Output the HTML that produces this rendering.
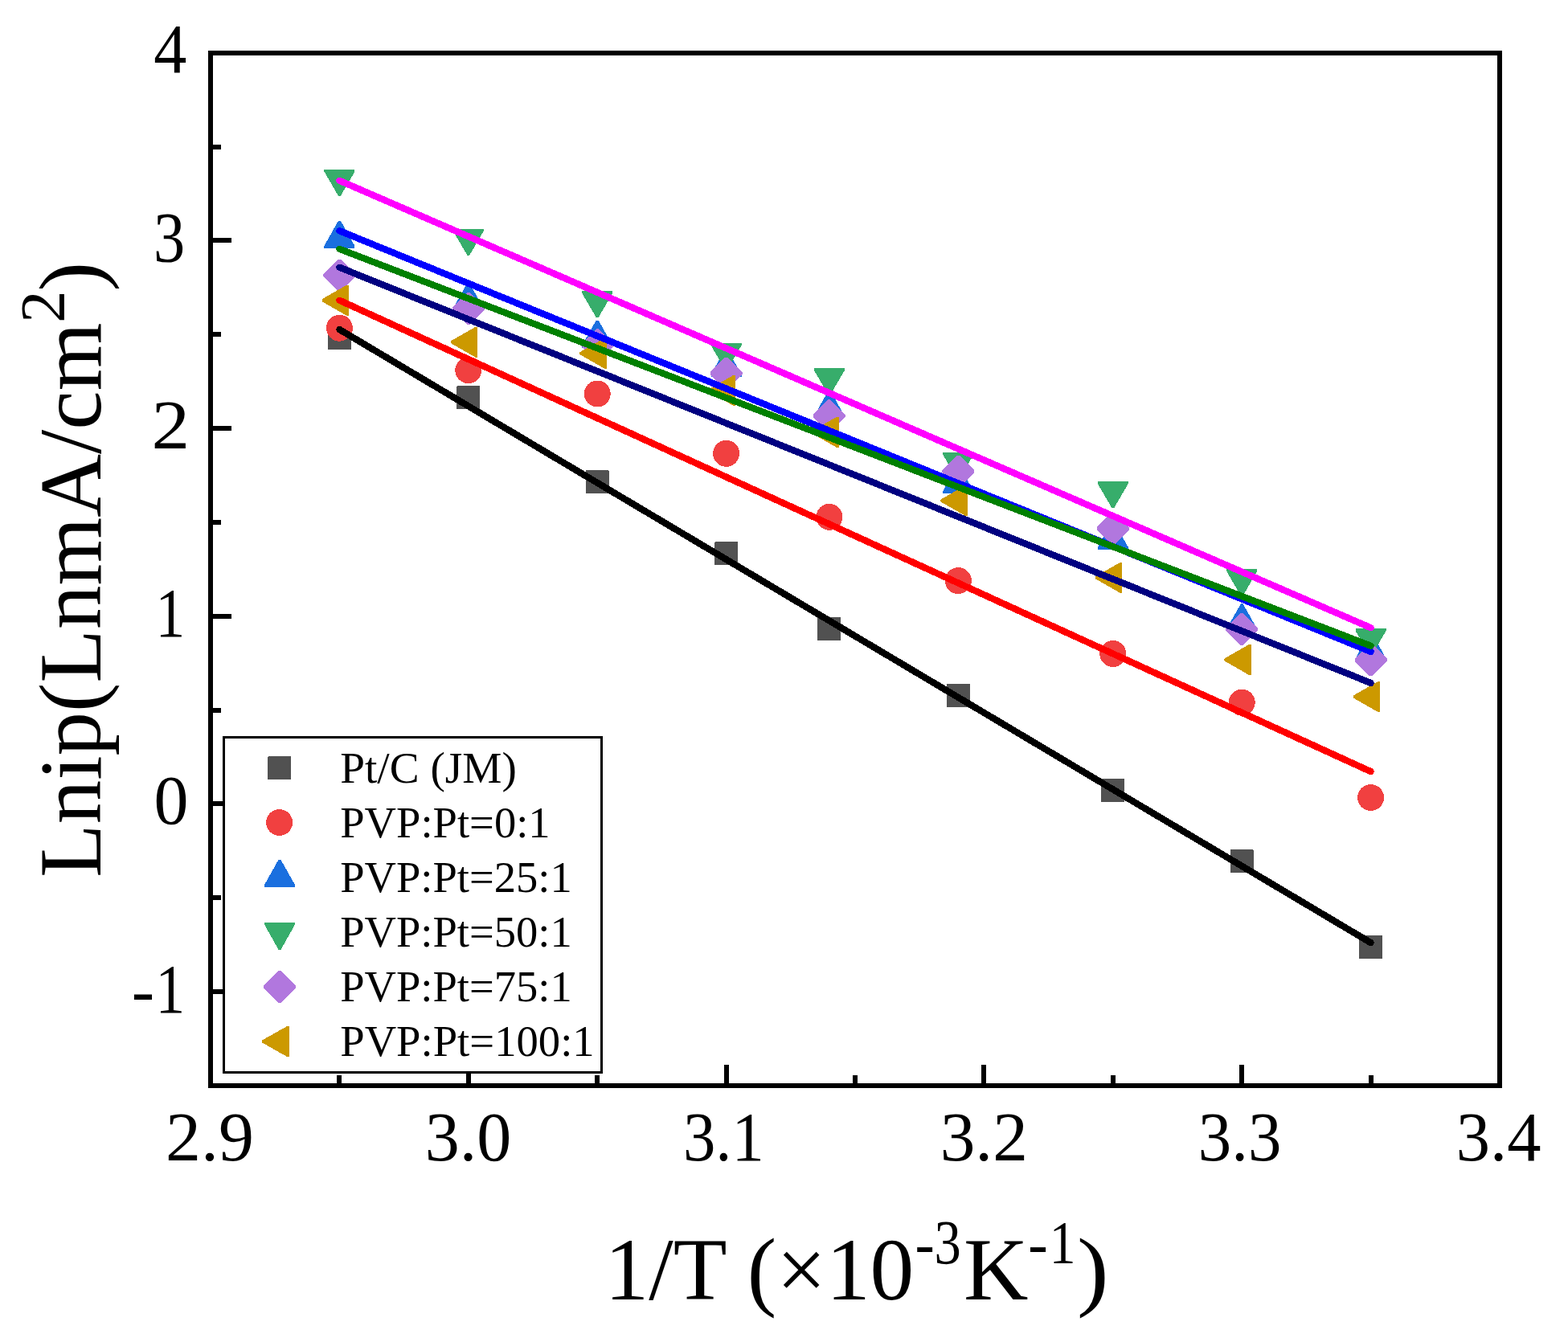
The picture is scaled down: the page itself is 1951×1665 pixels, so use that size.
<!DOCTYPE html>
<html lang="en"><head><meta charset="utf-8"><title>Lnip vs 1/T</title>
<style>html,body{margin:0;padding:0;background:#fff;overflow:hidden}body{width:1951px;height:1665px}svg{display:block}</style></head>
<body>
<svg width="1951" height="1665" viewBox="0 0 1951 1665" font-family='"Liberation Serif", "Times New Roman", serif' fill="#000">
<rect width="1951" height="1665" fill="#fff"/>
<g stroke="#000" stroke-width="6" fill="none" shape-rendering="crispEdges">
<line x1="262" y1="299" x2="288" y2="299"/>
<line x1="262" y1="533" x2="288" y2="533"/>
<line x1="262" y1="767" x2="288" y2="767"/>
<line x1="262" y1="1000" x2="288" y2="1000"/>
<line x1="262" y1="1234" x2="288" y2="1234"/>
<line x1="262" y1="183" x2="275" y2="183"/>
<line x1="262" y1="416" x2="275" y2="416"/>
<line x1="262" y1="650" x2="275" y2="650"/>
<line x1="262" y1="884" x2="275" y2="884"/>
<line x1="262" y1="1117" x2="275" y2="1117"/>
<line x1="583" y1="1351" x2="583" y2="1325"/>
<line x1="904" y1="1351" x2="904" y2="1325"/>
<line x1="1224" y1="1351" x2="1224" y2="1325"/>
<line x1="1545" y1="1351" x2="1545" y2="1325"/>
<line x1="422" y1="1351" x2="422" y2="1338"/>
<line x1="743" y1="1351" x2="743" y2="1338"/>
<line x1="1064" y1="1351" x2="1064" y2="1338"/>
<line x1="1385" y1="1351" x2="1385" y2="1338"/>
<line x1="1706" y1="1351" x2="1706" y2="1338"/>
</g>
<g shape-rendering="crispEdges">
<polygon points="408.9,406 435.9,406 436.9,407 436.9,435 407.9,435 407.9,407" fill="#515151"/>
<polygon points="569.3,479.8 596.3,479.8 597.3,480.8 597.3,508.8 568.3,508.8 568.3,480.8" fill="#515151"/>
<polygon points="729.7,584.9 756.7,584.9 757.7,585.9 757.7,613.9 728.7,613.9 728.7,585.9" fill="#515151"/>
<polygon points="890.1,674.1 917.1,674.1 918.1,675.1 918.1,703.1 889.1,703.1 889.1,675.1" fill="#515151"/>
<polygon points="1018.42,767.5 1045.42,767.5 1046.42,768.5 1046.42,796.5 1017.42,796.5 1017.42,768.5" fill="#515151"/>
<polygon points="1178.82,850.6 1205.82,850.6 1206.82,851.6 1206.82,879.6 1177.82,879.6 1177.82,851.6" fill="#515151"/>
<polygon points="1371.3,968.9 1398.3,968.9 1399.3,969.9 1399.3,997.9 1370.3,997.9 1370.3,969.9" fill="#515151"/>
<polygon points="1531.7,1057.1 1558.7,1057.1 1559.7,1058.1 1559.7,1086.1 1530.7,1086.1 1530.7,1058.1" fill="#515151"/>
<polygon points="1692.1,1163.5 1719.1,1163.5 1720.1,1164.5 1720.1,1192.5 1691.1,1192.5 1691.1,1164.5" fill="#515151"/>
<circle cx="422.4" cy="408.2" r="16.5" fill="#F14040"/>
<circle cx="582.8" cy="460.7" r="16.5" fill="#F14040"/>
<circle cx="743.2" cy="490" r="16.5" fill="#F14040"/>
<circle cx="903.6" cy="564.3" r="16.5" fill="#F14040"/>
<circle cx="1031.92" cy="643.3" r="16.5" fill="#F14040"/>
<circle cx="1192.32" cy="722.6" r="16.5" fill="#F14040"/>
<circle cx="1384.8" cy="813.5" r="16.5" fill="#F14040"/>
<circle cx="1545.2" cy="874.2" r="16.5" fill="#F14040"/>
<circle cx="1705.6" cy="992.5" r="16.5" fill="#F14040"/>
<polygon points="403.33,308.66 441.48,308.66 441.48,306.06 423.8,274.66 421,274.66 403.33,306.06" fill="#1A6FDF"/>
<polygon points="563.73,386.36 601.88,386.36 601.88,383.76 584.2,352.36 581.4,352.36 563.73,383.76" fill="#1A6FDF"/>
<polygon points="724.12,432.56 762.27,432.56 762.27,429.96 744.6,398.56 741.8,398.56 724.12,429.96" fill="#1A6FDF"/>
<polygon points="884.53,468.66 922.68,468.66 922.68,466.06 905,434.66 902.2,434.66 884.53,466.06" fill="#1A6FDF"/>
<polygon points="1012.85,520.46 1051,520.46 1051,517.86 1033.32,486.46 1030.52,486.46 1012.85,517.86" fill="#1A6FDF"/>
<polygon points="1173.25,613.66 1211.4,613.66 1211.4,611.06 1193.72,579.66 1190.92,579.66 1173.25,611.06" fill="#1A6FDF"/>
<polygon points="1365.73,683.76 1403.88,683.76 1403.88,681.16 1386.2,649.76 1383.4,649.76 1365.73,681.16" fill="#1A6FDF"/>
<polygon points="1526.12,785.46 1564.27,785.46 1564.27,782.86 1546.6,751.46 1543.8,751.46 1526.12,782.86" fill="#1A6FDF"/>
<polygon points="1686.53,821.96 1724.68,821.96 1724.68,819.36 1707,787.96 1704.2,787.96 1686.53,819.36" fill="#1A6FDF"/>
<polygon points="403.33,210.84 441.48,210.84 441.48,213.44 423.8,243.84 421,243.84 403.33,213.44" fill="#37AD6B"/>
<polygon points="563.73,284.74 601.88,284.74 601.88,287.34 584.2,317.74 581.4,317.74 563.73,287.34" fill="#37AD6B"/>
<polygon points="724.12,362.14 762.27,362.14 762.27,364.74 744.6,395.14 741.8,395.14 724.12,364.74" fill="#37AD6B"/>
<polygon points="884.53,427.14 922.68,427.14 922.68,429.74 905,460.14 902.2,460.14 884.53,429.74" fill="#37AD6B"/>
<polygon points="1012.85,458.14 1051,458.14 1051,460.74 1033.32,491.14 1030.52,491.14 1012.85,460.74" fill="#37AD6B"/>
<polygon points="1173.25,563.14 1211.4,563.14 1211.4,565.74 1193.72,596.14 1190.92,596.14 1173.25,565.74" fill="#37AD6B"/>
<polygon points="1365.73,599.14 1403.88,599.14 1403.88,601.74 1386.2,632.14 1383.4,632.14 1365.73,601.74" fill="#37AD6B"/>
<polygon points="1526.12,708.24 1564.27,708.24 1564.27,710.84 1546.6,741.24 1543.8,741.24 1526.12,710.84" fill="#37AD6B"/>
<polygon points="1686.53,782.24 1724.68,782.24 1724.68,784.84 1707,815.24 1704.2,815.24 1686.53,784.84" fill="#37AD6B"/>
<polygon points="420.9,322.65 423.9,322.65 442.45,341.2 442.45,344.2 423.9,362.75 420.9,362.75 402.35,344.2 402.35,341.2" fill="#B177DE"/>
<polygon points="581.3,363.85 584.3,363.85 602.85,382.4 602.85,385.4 584.3,403.95 581.3,403.95 562.75,385.4 562.75,382.4" fill="#B177DE"/>
<polygon points="741.7,409.35 744.7,409.35 763.25,427.9 763.25,430.9 744.7,449.45 741.7,449.45 723.15,430.9 723.15,427.9" fill="#B177DE"/>
<polygon points="902.1,444.65 905.1,444.65 923.65,463.2 923.65,466.2 905.1,484.75 902.1,484.75 883.55,466.2 883.55,463.2" fill="#B177DE"/>
<polygon points="1030.42,497.45 1033.42,497.45 1051.97,516 1051.97,519 1033.42,537.55 1030.42,537.55 1011.87,519 1011.87,516" fill="#B177DE"/>
<polygon points="1190.82,566.65 1193.82,566.65 1212.37,585.2 1212.37,588.2 1193.82,606.75 1190.82,606.75 1172.27,588.2 1172.27,585.2" fill="#B177DE"/>
<polygon points="1383.3,637.65 1386.3,637.65 1404.85,656.2 1404.85,659.2 1386.3,677.75 1383.3,677.75 1364.75,659.2 1364.75,656.2" fill="#B177DE"/>
<polygon points="1543.7,762.85 1546.7,762.85 1565.25,781.4 1565.25,784.4 1546.7,802.95 1543.7,802.95 1525.15,784.4 1525.15,781.4" fill="#B177DE"/>
<polygon points="1704.1,801.05 1707.1,801.05 1725.65,819.6 1725.65,822.6 1707.1,841.15 1704.1,841.15 1685.55,822.6 1685.55,819.6" fill="#B177DE"/>
<polygon points="434.06,354.62 434.06,392.77 431.46,392.77 400.56,375.1 400.56,372.3 431.46,354.62" fill="#CC9900"/>
<polygon points="594.46,406.62 594.46,444.77 591.86,444.77 560.96,427.1 560.96,424.3 591.86,406.62" fill="#CC9900"/>
<polygon points="754.86,420.53 754.86,458.68 752.26,458.68 721.36,441 721.36,438.2 752.26,420.53" fill="#CC9900"/>
<polygon points="915.26,466.73 915.26,504.88 912.66,504.88 881.76,487.2 881.76,484.4 912.66,466.73" fill="#CC9900"/>
<polygon points="1043.58,518.72 1043.58,556.88 1040.98,556.88 1010.08,539.2 1010.08,536.4 1040.98,518.72" fill="#CC9900"/>
<polygon points="1203.98,603.92 1203.98,642.08 1201.38,642.08 1170.48,624.4 1170.48,621.6 1201.38,603.92" fill="#CC9900"/>
<polygon points="1396.46,699.82 1396.46,737.98 1393.86,737.98 1362.96,720.3 1362.96,717.5 1393.86,699.82" fill="#CC9900"/>
<polygon points="1556.86,801.92 1556.86,840.08 1554.26,840.08 1523.36,822.4 1523.36,819.6 1554.26,801.92" fill="#CC9900"/>
<polygon points="1717.26,847.92 1717.26,886.08 1714.66,886.08 1683.76,868.4 1683.76,865.6 1714.66,847.92" fill="#CC9900"/>
</g>
<g stroke-width="8.33" stroke-linecap="round" fill="none" shape-rendering="crispEdges">
<line x1="422.4" y1="410" x2="1705.6" y2="1173.1" stroke="#000000"/>
<line x1="422.4" y1="373.7" x2="1705.6" y2="960.1" stroke="#FF0000"/>
<line x1="422.4" y1="287.2" x2="1705.6" y2="810.9" stroke="#0000FF"/>
<line x1="422.4" y1="224.7" x2="1705.6" y2="781.2" stroke="#FF00FF"/>
<line x1="422.4" y1="309.8" x2="1705.6" y2="803.7" stroke="#008000"/>
<line x1="422.4" y1="332.7" x2="1705.6" y2="849.9" stroke="#000080"/>
</g>
<rect x="278.5" y="917.5" width="470" height="417" fill="#fff" stroke="#000" stroke-width="3" shape-rendering="crispEdges"/>
<polygon points="334.1,941 361.1,941 362.1,942 362.1,970 333.1,970 333.1,942" shape-rendering="crispEdges" fill="#515151"/>
<text transform="translate(423.21 974.24) scale(0.5531 0.5538)" font-size="100">Pt/C (JM)</text>
<circle cx="347.6" cy="1023.5" r="16.5" shape-rendering="crispEdges" fill="#F14040"/>
<text transform="translate(423.23 1042.21) scale(0.5461 0.5456)" font-size="100">PVP:Pt=0:1</text>
<polygon points="328.93,1103.8 367.07,1103.8 367.07,1101.2 349.4,1069.8 346.6,1069.8 328.93,1101.2" shape-rendering="crispEdges" fill="#1A6FDF"/>
<text transform="translate(423.23 1110.21) scale(0.5457 0.5456)" font-size="100">PVP:Pt=25:1</text>
<polygon points="328.93,1147.88 367.07,1147.88 367.07,1150.48 349.4,1181.88 346.6,1181.88 328.93,1150.48" shape-rendering="crispEdges" fill="#37AD6B"/>
<text transform="translate(423.23 1178.21) scale(0.5457 0.5456)" font-size="100">PVP:Pt=50:1</text>
<polygon points="346.5,1207.95 349.5,1207.95 368.05,1226.5 368.05,1229.5 349.5,1248.05 346.5,1248.05 327.95,1229.5 327.95,1226.5" shape-rendering="crispEdges" fill="#B177DE"/>
<text transform="translate(423.23 1246.21) scale(0.5457 0.5456)" font-size="100">PVP:Pt=75:1</text>
<polygon points="360.02,1276.92 360.02,1315.08 357.42,1315.08 326.02,1297.4 326.02,1294.6 357.42,1276.92" shape-rendering="crispEdges" fill="#CC9900"/>
<text transform="translate(423.23 1314.21) scale(0.5468 0.5456)" font-size="100">PVP:Pt=100:1</text>
<rect x="262" y="66" width="1604" height="1285" fill="none" stroke="#000" stroke-width="6" shape-rendering="crispEdges"/>
<g>
<text transform="translate(191.19 90.27) scale(0.8219 0.8688)" font-size="100">4</text>
<text transform="translate(191.02 325.12) scale(0.7834 0.8785)" font-size="100">3</text>
<text transform="translate(188.6 558.28) scale(0.9533 0.8656)" font-size="100">2</text>
<text transform="translate(193.54 791.9) scale(0.7354 0.8652)" font-size="100">1</text>
<text transform="translate(191.51 1025.42) scale(0.8598 0.8619)" font-size="100">0</text>
<text transform="translate(163.73 1260.9) scale(0.8519 0.8650)" font-size="100">-</text>
<text transform="translate(193.57 1260) scale(0.7341 0.8636)" font-size="100">1</text>
</g>
<g>
<text transform="translate(206 1444.13) scale(0.8797 0.8725)" font-size="100">2.9</text>
<text transform="translate(528.7 1443.61) scale(0.8614 0.8646)" font-size="100">3.0</text>
<text transform="translate(849.95 1444.23) scale(0.8083 0.8672)" font-size="100">3.1</text>
<text transform="translate(1169.63 1444.23) scale(0.8747 0.8740)" font-size="100">3.2</text>
<text transform="translate(1490.79 1444.23) scale(0.8290 0.8740)" font-size="100">3.3</text>
<text transform="translate(1811.78 1444.23) scale(0.8449 0.8740)" font-size="100">3.4</text>
</g>
<g>
<text transform="translate(752.58 1616.9) scale(1.0937 1.1009)" font-size="100">1/T (×10</text>
<text transform="translate(1138.49 1573.5) scale(0.7286 0.7750)" font-size="100">-</text>
<text transform="translate(1162.48 1572.32) scale(0.6649 0.7823)" font-size="100">3</text>
<text transform="translate(1198.9 1616.51) scale(1.1140 1.1032)" font-size="100">K</text>
<text transform="translate(1279.16 1573.5) scale(0.7363 0.7750)" font-size="100">-</text>
<text transform="translate(1305.68 1571.9) scale(0.6542 0.7697)" font-size="100">1</text>
<text transform="translate(1339.95 1616.88) scale(1.1899 1.1004)" font-size="100">)</text>
</g>
<g>
<text transform="translate(124.87 1091.93) rotate(-90) scale(1.0905 1.0987)" font-size="100">Lnip(LnmA/cm</text>
<text transform="translate(79.48 401.72) rotate(-90) scale(0.8016 0.7736)" font-size="100">2</text>
<text transform="translate(124.87 362.55) rotate(-90) scale(1.0951 1.0987)" font-size="100">)</text>
</g>
</svg>
</body></html>
